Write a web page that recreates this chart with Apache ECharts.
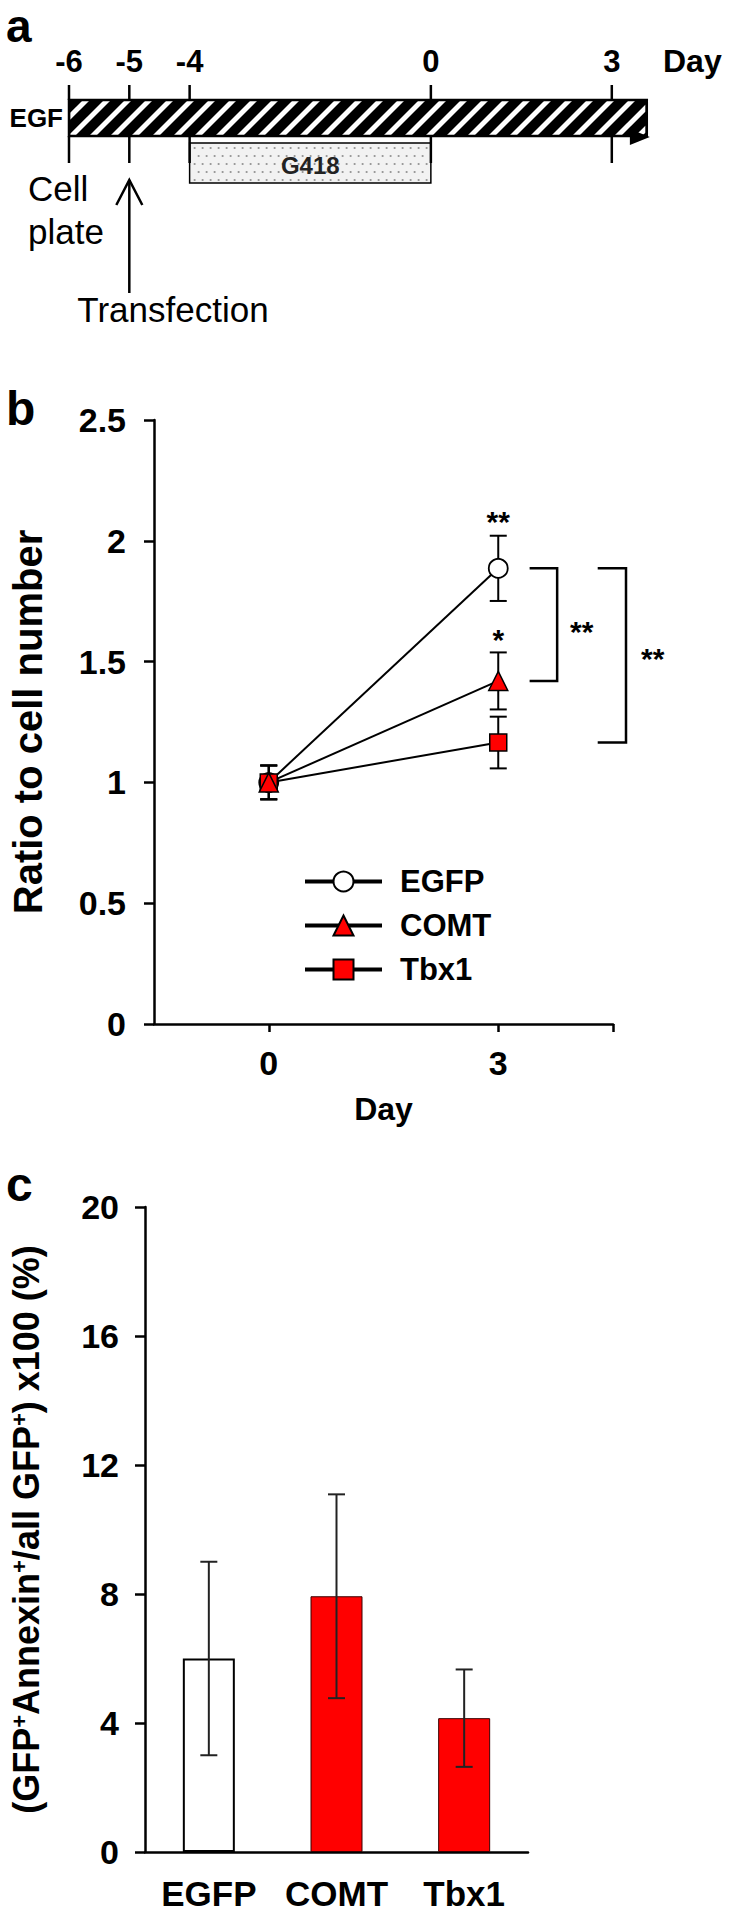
<!DOCTYPE html>
<html><head><meta charset="utf-8">
<script src="https://cdn.jsdelivr.net/npm/echarts@6/dist/echarts.min.js"></script>
<style>html,body{margin:0;padding:0;background:#fff}#chart{width:729px;height:1922px}</style>
</head><body><div id="chart"></div>
<script>
// ---------- Panel a: timeline ----------
const timelineDays = [-6, -5, -4, 0, 3];
const egfPeriod = [-6, 3.58];
const g418Period = [-4, 0];
const cellPlateDay = -6;
const transfectionDay = -5;

// ---------- Panel b: growth ----------
const growthDays = [0, 3];
const egfpRatio = [1.0, 1.886];
const egfpErr = [0.07, 0.135];
const comtRatio = [1.0, 1.42];
const comtErr = [0.07, 0.118];
const tbx1Ratio = [1.0, 1.165];
const tbx1Err = [0.07, 0.107];
const dayTicks = [0, 3];
const sigText = ['**', '*'];
const sigX = [3, 3];
const sigY = [2.114, 1.624];
const bracketFrom = [3.41, 4.30];
const bracketTo = [3.77, 4.67];
const bracketTop = [1.886, 1.886];
const bracketBottom = [1.42, 1.165];
const bracketText = ['**', '**'];
const bracketTextX = [4.09, 5.02];
const bracketTextY = [1.659, 1.545];

// ---------- Panel c: apoptosis ----------
const groups = ['EGFP', 'COMT', 'Tbx1'];
const annexinPct = [6.0, 7.93, 4.15];
const annexinErr = [3.0, 3.16, 1.51];

const FF = "'Liberation Sans', Arial, Helvetica, sans-serif";
const chart = echarts.init(document.getElementById('chart'), null, {renderer: 'svg'});

function clipX(poly, xl, keepGreater) {
  const out = [];
  for (let i = 0; i < poly.length; i++) {
    const a = poly[i], b = poly[(i + 1) % poly.length];
    const ina = keepGreater ? a[0] >= xl : a[0] <= xl;
    const inb = keepGreater ? b[0] >= xl : b[0] <= xl;
    if (ina) out.push(a);
    if (ina !== inb) {
      const t = (xl - a[0]) / (b[0] - a[0]);
      out.push([xl, a[1] + t * (b[1] - a[1])]);
    }
  }
  return out;
}

// layout rows of the timeline (pixel-like units below grid top)
const ROW = {tickTop: 0, barTop: 15, barBot: 51, lowTickBot: 78, boxTop: 58, boxBot: 98};

const errB = [];
growthDays.forEach((d, i) => {
  errB.push([d, egfpRatio[i], egfpErr[i]]);
  errB.push([d, comtRatio[i], comtErr[i]]);
  errB.push([d, tbx1Ratio[i], tbx1Err[i]]);
});

function errRender(capW, lw, color) {
  return function (params, api) {
    const x = api.value(0), m = api.value(1), e = api.value(2);
    const t = api.coord([x, m + e]), b = api.coord([x, m - e]);
    const st = {stroke: color, lineWidth: lw};
    return {type: 'group', children: [
      {type: 'line', shape: {x1: t[0], y1: t[1], x2: b[0], y2: b[1]}, style: st},
      {type: 'line', shape: {x1: t[0] - capW / 2, y1: t[1], x2: t[0] + capW / 2, y2: t[1]}, style: st},
      {type: 'line', shape: {x1: b[0] - capW / 2, y1: b[1], x2: b[0] + capW / 2, y2: b[1]}, style: st}
    ]};
  };
}

const panelLetter = (txt, top, size, lh) => ({type: 'text', left: 6, top: top,
  style: {text: txt, fontSize: size, lineHeight: lh, fontWeight: 'bold', fontFamily: FF, fill: '#000'}});

const option = {
  animation: false,
  backgroundColor: '#ffffff',
  textStyle: {fontFamily: FF, color: '#000'},
  graphic: [panelLetter('a', 3, 46, 46), panelLetter('b', 384, 48, 34), panelLetter('c', 1160, 48, 34)],
  legend: {
    data: ['EGFP', 'COMT', 'Tbx1'],
    orient: 'vertical', left: 298, top: 861,
    itemWidth: 77, itemHeight: 25, itemGap: 13,
    selectedMode: false,
    lineStyle: {width: 4},
    textStyle: {fontSize: 31, fontWeight: 'bold', color: '#000', fontFamily: FF, padding: [0, 0, 0, 13]}
  },
  grid: [
    {left: 69, top: 85, width: 582, height: 245},
    {left: 140, top: 420, width: 473, height: 604},
    {left: 139, top: 1207, width: 389, height: 645}
  ],
  xAxis: [
    {gridIndex: 0, type: 'value', min: -6, max: 3.65, position: 'top',
     axisLine: {show: false, onZero: false}, axisTick: {show: false}, splitLine: {show: false},
     axisLabel: {customValues: timelineDays, margin: 8, fontSize: 31, fontWeight: 'bold', color: '#000', fontFamily: FF},
     name: 'Day', nameLocation: 'end', nameGap: 12,
     nameTextStyle: {fontSize: 32, fontWeight: 'bold', color: '#000', fontFamily: FF, verticalAlign: 'bottom', padding: [0, 0, 8, 0]}},
    {gridIndex: 1, type: 'value', min: -1.5, max: 4.5,
     axisLine: {onZero: false, lineStyle: {color: '#000', width: 2.5}},
     axisTick: {customValues: [0, 3, 4.5], length: 8, lineStyle: {color: '#000', width: 2.5}},
     axisLabel: {customValues: dayTicks, margin: 22, fontSize: 34, fontWeight: 'bold', color: '#000', fontFamily: FF},
     splitLine: {show: false},
     name: 'Day', nameLocation: 'middle', nameGap: 69,
     nameTextStyle: {fontSize: 32, fontWeight: 'bold', color: '#000', fontFamily: FF}},
    {gridIndex: 2, type: 'category', data: groups, boundaryGap: true,
     axisLine: {onZero: false, lineStyle: {color: '#000', width: 2.5}},
     axisTick: {length: 10, lineStyle: {color: '#000', width: 2.5}},
     axisLabel: {interval: 0, hideOverlap: false, margin: 24, fontSize: 35, fontWeight: 'bold', color: '#000', fontFamily: FF}}
  ],
  yAxis: [
    {gridIndex: 0, type: 'value', min: 0, max: 245, inverse: true, show: false},
    {gridIndex: 1, type: 'value', min: 0, max: 2.5, interval: 0.5,
     axisLine: {show: true, onZero: false, lineStyle: {color: '#000', width: 2.5}},
     axisTick: {show: true, length: 10, lineStyle: {color: '#000', width: 2.5}},
     axisLabel: {margin: 28, fontSize: 34, fontWeight: 'bold', color: '#000', fontFamily: FF},
     splitLine: {show: false},
     name: 'Ratio to cell number', nameLocation: 'middle', nameGap: 106, nameRotate: 90,
     nameTextStyle: {fontSize: 40, fontWeight: 'bold', color: '#000', fontFamily: FF}},
    {gridIndex: 2, type: 'value', min: 0, max: 20, interval: 4,
     axisLine: {show: true, onZero: false, lineStyle: {color: '#000', width: 2.5}},
     axisTick: {show: true, length: 10, lineStyle: {color: '#000', width: 2.5}},
     axisLabel: {margin: 26, fontSize: 34, fontWeight: 'bold', color: '#000', fontFamily: FF},
     splitLine: {show: false},
     name: '{n|(GFP}{s|+}{n|Annexin}{s|+}{n|/all GFP}{s|+}{n|) x100 (%)}',
     nameLocation: 'middle', nameGap: 101, nameRotate: 90,
     nameTextStyle: {rich: {
       n: {fontSize: 36, fontWeight: 'bold', color: '#000', fontFamily: FF},
       s: {fontSize: 22, fontWeight: 'bold', color: '#000', fontFamily: FF, verticalAlign: 'top'}
     }}}
  ],
  series: [
    // ---- panel a ----
    {type: 'custom', name: 'EGF', xAxisIndex: 0, yAxisIndex: 0, silent: true,
     data: [[egfPeriod[0], egfPeriod[1]]],
     renderItem(params, api) {
       const p0 = api.coord([api.value(0), ROW.barTop]);
       const p1 = api.coord([api.value(1), ROW.barBot]);
       const x0 = p0[0], y0 = p0[1], x1 = p1[0], y1 = p1[1], h = y1 - y0;
       const ch = [{type: 'rect', shape: {x: x0, y: y0, width: x1 - x0, height: h}, style: {fill: '#000'}}];
       const period = 21, w = 7;
       for (let s = x0 - h - w; s < x1; s += period) {
         let poly = [[s, y1], [s + w, y1], [s + w + h, y0], [s + h, y0]];
         poly = clipX(poly, x0 + 1.2, true);
         if (poly.length < 3) continue;
         poly = clipX(poly, x1 - 1.2, false);
         if (poly.length < 3) continue;
         ch.push({type: 'polygon', shape: {points: poly}, style: {fill: '#fff'}});
       }
       ch.push({type: 'rect', shape: {x: x0, y: y0, width: x1 - x0, height: h}, style: {fill: 'none', stroke: '#000', lineWidth: 2.5}});
       const tip = api.coord([api.value(1) + 0.05, ROW.barBot + 1]);
       const bA = api.coord([api.value(1) - 0.28, ROW.barBot - 7]);
       const bB = api.coord([api.value(1) - 0.28, ROW.barBot + 9]);
       ch.push({type: 'polygon', shape: {points: [tip, bA, bB]}, style: {fill: '#000'}});
       const lab = api.coord([api.value(0), (ROW.barTop + ROW.barBot) / 2]);
       ch.push({type: 'text', x: lab[0] - 6, y: lab[1], style: {text: 'EGF', fontSize: 26, fontWeight: 'bold', fontFamily: FF, fill: '#000', align: 'right', verticalAlign: 'middle'}});
       return {type: 'group', children: ch};
     }},
    {type: 'custom', name: 'G418', xAxisIndex: 0, yAxisIndex: 0, silent: true,
     data: [[g418Period[0], g418Period[1]]],
     renderItem(params, api) {
       const p0 = api.coord([api.value(0), ROW.boxTop]);
       const p1 = api.coord([api.value(1), ROW.boxBot]);
       const ch = [{type: 'rect', shape: {x: p0[0], y: p0[1], width: p1[0] - p0[0], height: p1[1] - p0[1]}, style: {fill: '#f2f2f2'}}];
       let row = 0;
       for (let yy = p0[1] + 5; yy < p1[1] - 2; yy += 8, row++) {
         for (let xx = p0[0] + 5 + (row % 2) * 4; xx < p1[0] - 2; xx += 8) {
           ch.push({type: 'circle', shape: {cx: xx, cy: yy, r: 1.1}, style: {fill: '#9a9a9a'}});
         }
       }
       ch.push({type: 'rect', shape: {x: p0[0], y: p0[1], width: p1[0] - p0[0], height: p1[1] - p0[1]}, style: {fill: 'none', stroke: '#000', lineWidth: 1.5}});
       ch.push({type: 'text', x: (p0[0] + p1[0]) / 2, y: (p0[1] + p1[1]) / 2 + 2, style: {text: 'G418', fontSize: 24, fontWeight: 'bold', fontFamily: FF, fill: '#222', align: 'center', verticalAlign: 'middle'}});
       return {type: 'group', children: ch};
     }},
    {type: 'custom', name: 'ticksA', xAxisIndex: 0, yAxisIndex: 0, silent: true,
     data: timelineDays.map(d => [d, 0]),
     renderItem(params, api) {
       const x = api.value(0);
       const a0 = api.coord([x, ROW.tickTop]), a1 = api.coord([x, ROW.barTop]);
       const b0 = api.coord([x, ROW.barBot]), b1 = api.coord([x, ROW.lowTickBot]);
       const st = {stroke: '#000', lineWidth: 2.5};
       return {type: 'group', children: [
         {type: 'line', shape: {x1: a0[0], y1: a0[1], x2: a1[0], y2: a1[1]}, style: st},
         {type: 'line', shape: {x1: b0[0], y1: b0[1], x2: b1[0], y2: b1[1]}, style: st}
       ]};
     }},
    {type: 'custom', name: 'eventsA', xAxisIndex: 0, yAxisIndex: 0, silent: true,
     data: [[cellPlateDay, transfectionDay]],
     renderItem(params, api) {
       const cp = api.coord([api.value(0), 82]);
       const tTop = api.coord([api.value(1), 95]);
       const tBot = api.coord([api.value(1), 208]);
       const tl = api.coord([api.value(1), 207]);
       const st = {stroke: '#000', lineWidth: 2.5, fill: 'none'};
       return {type: 'group', children: [
         {type: 'text', x: cp[0] - 41, y: cp[1], style: {text: 'Cell\nplate', fontSize: 35, lineHeight: 43, fontFamily: FF, fill: '#000', align: 'left', verticalAlign: 'top'}},
         {type: 'line', shape: {x1: tTop[0], y1: tTop[1], x2: tBot[0], y2: tBot[1]}, style: st},
         {type: 'polyline', shape: {points: [[tTop[0] - 13, tTop[1] + 25], [tTop[0], tTop[1]], [tTop[0] + 13, tTop[1] + 25]]}, style: st},
         {type: 'text', x: tl[0] - 52, y: tl[1], style: {text: 'Transfection', fontSize: 35, fontFamily: FF, fill: '#000', align: 'left', verticalAlign: 'top'}}
       ]};
     }},
    // ---- panel b ----
    {type: 'custom', name: 'errB', xAxisIndex: 1, yAxisIndex: 1, silent: true, z: 2,
     data: errB, renderItem: errRender(17, 2, '#000')},
    {name: 'EGFP', type: 'line', xAxisIndex: 1, yAxisIndex: 1, z: 3,
     data: growthDays.map((d, i) => [d, egfpRatio[i]]),
     symbol: 'circle', symbolSize: 19,
     itemStyle: {color: '#ffffff', borderColor: '#000', borderWidth: 1.8},
     lineStyle: {color: '#000', width: 2}, emphasis: {disabled: true}},
    {name: 'Tbx1', type: 'line', xAxisIndex: 1, yAxisIndex: 1, z: 3,
     data: growthDays.map((d, i) => [d, tbx1Ratio[i]]),
     symbol: 'rect', symbolSize: 17,
     itemStyle: {color: '#ff0000', borderColor: '#000', borderWidth: 1.5},
     lineStyle: {color: '#000', width: 2}, emphasis: {disabled: true}},
    {name: 'COMT', type: 'line', xAxisIndex: 1, yAxisIndex: 1, z: 3,
     data: growthDays.map((d, i) => [d, comtRatio[i]]),
     symbol: 'triangle', symbolSize: 19,
     itemStyle: {color: '#ff0000', borderColor: '#000', borderWidth: 1.5},
     lineStyle: {color: '#000', width: 2}, emphasis: {disabled: true}},
    {type: 'custom', name: 'brackets', xAxisIndex: 1, yAxisIndex: 1, silent: true, clip: false,
     data: bracketFrom.map((f, i) => [f, bracketTo[i], bracketTop[i], bracketBottom[i]]),
     renderItem(params, api) {
       const f = api.value(0), t = api.value(1), top = api.value(2), bot = api.value(3);
       return {type: 'polyline', shape: {points: [api.coord([f, top]), api.coord([t, top]), api.coord([t, bot]), api.coord([f, bot])]},
               style: {stroke: '#000', lineWidth: 2.5, fill: 'none'}};
     }},
    {type: 'custom', name: 'stars', xAxisIndex: 1, yAxisIndex: 1, silent: true, clip: false,
     data: sigX.map((x, i) => [x, sigY[i]]).concat(bracketTextX.map((x, i) => [x, bracketTextY[i]])),
     renderItem(params, api) {
       const labels = sigText.concat(bracketText);
       const p = api.coord([api.value(0), api.value(1)]);
       return {type: 'text', x: p[0], y: p[1] + 8, style: {text: labels[params.dataIndex], fontSize: 30, fontWeight: 'bold', fontFamily: FF, fill: '#000', align: 'center', verticalAlign: 'middle'}};
     }},
    // ---- panel c ----
    {type: 'bar', xAxisIndex: 2, yAxisIndex: 2, barWidth: 52, z: 2,
     data: annexinPct.map((v, i) => ({value: v, itemStyle: i === 0
        ? {color: '#ffffff', borderColor: '#000', borderWidth: 2}
        : {color: '#ff0000', borderColor: '#3a0000', borderWidth: 1}})),
     emphasis: {disabled: true}},
    {type: 'custom', name: 'errC', xAxisIndex: 2, yAxisIndex: 2, silent: true, z: 4,
     data: annexinPct.map((v, i) => [i, v, annexinErr[i]]), renderItem: errRender(17, 2, '#222')}
  ]
};
chart.setOption(option);
</script></body></html>
